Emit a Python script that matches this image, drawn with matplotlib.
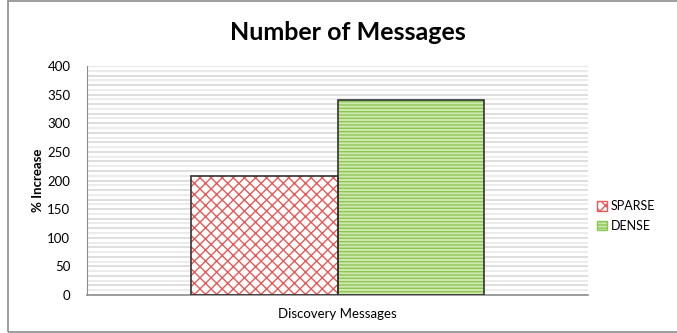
import numpy as np
import matplotlib
matplotlib.use('Agg')
import matplotlib.pyplot as plt
from matplotlib.patches import Patch, Rectangle

plt.rcParams['font.family'] = ['Lato', 'DejaVu Sans']

categories = ['Discovery Messages']
series = ['SPARSE', 'DENSE']
values = {'SPARSE': [207], 'DENSE': [341]}
yticks = [0, 50, 100, 150, 200, 250, 300, 350, 400]

fill = {'SPARSE': 'white', 'DENSE': '#cfe8b0'}
hatch_col = {'SPARSE': '#e65a5a', 'DENSE': '#8cc653'}
hatches = {'SPARSE': 'xxx', 'DENSE': '-----'}

fig = plt.figure(figsize=(6.77, 3.33), dpi=100)
# chart frame
fig.patches.append(Rectangle((8/677, 1/333), 1.0, 331/333, transform=fig.transFigure,
                             fill=False, edgecolor='#8c8c8c', linewidth=1.2))

ax = fig.add_axes([87/677, 1 - 295/333, (588 - 87)/677, (295 - 66)/333])
ax.set_xlim(-0.5, 0.5)
ax.set_ylim(0, 400)

# striped plot-area background
stripes = np.arange(0, 400, 50/6)
for i, y in enumerate(stripes[1:]):
    ax.axhline(y, color='#d4d4d4' if i % 2 else '#e6e6e6', linewidth=1.1, zorder=0)
ax.axhline(400, color='#e0e0e0', linewidth=1.1, zorder=0)

x = np.arange(len(categories))
w = 0.293
for j, s in enumerate(series):
    pos = x + (j - 0.5) * w
    ax.bar(pos, values[s], w, color=fill[s], edgecolor=hatch_col[s], hatch=hatches[s],
           linewidth=0, zorder=2)
    ax.bar(pos, values[s], w, fill=False, edgecolor='#333333', linewidth=1.2, zorder=3)

ax.set_yticks(yticks)
ax.set_xticks(x)
ax.set_xticklabels(categories, fontsize=10)
ax.tick_params(length=0, labelsize=9.5, colors='black')
ax.tick_params(axis='y', pad=12)
ax.tick_params(axis='x', pad=9)
for side in ['top', 'right']:
    ax.spines[side].set_visible(False)
ax.spines['left'].set_color('#8c8c8c')
ax.spines['bottom'].set_color('#8c8c8c')
ax.spines['bottom'].set_linewidth(1.2)

ax.set_ylabel('% Increase', fontsize=9.5, fontweight='bold', labelpad=2)
fig.text(348/677, 1 - 33/333, 'Number of Messages', ha='center', va='center',
         fontsize=18, fontweight='bold')

handles = [Patch(facecolor=fill[s], edgecolor=hatch_col[s], hatch=hatches[s]) for s in series]
fig.legend(handles, series, loc='center left', bbox_to_anchor=(586/677, 1 - 216/333),
           frameon=False, fontsize=9, handlelength=0.8, handleheight=0.8,
           handletextpad=0.3, labelspacing=0.6)

fig.savefig('out.png', dpi=100)
